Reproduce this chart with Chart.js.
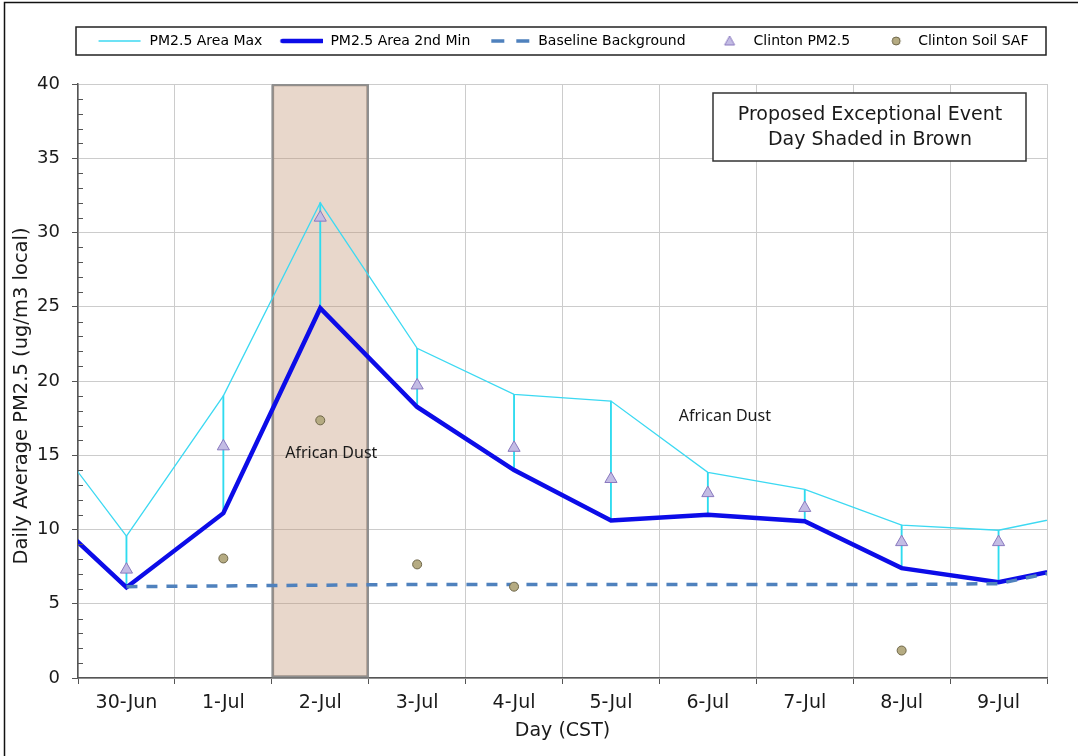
<!DOCTYPE html>
<html>
<head>
<meta charset="utf-8">
<title>Clinton PM2.5 - African Dust</title>
<script src="https://cdn.jsdelivr.net/npm/chart.js@4.4.1/dist/chart.umd.min.js"></script>
<style>
  html, body { margin: 0; padding: 0; background: #fff; }
  canvas { display: block; }
</style>
</head>
<body>
<canvas id="pmChart" width="1078" height="756"></canvas>
<script>
// one hidden day on each side, so the lines run off the edges of the plot like the original
const days = ['29-Jun', '30-Jun', '1-Jul', '2-Jul', '3-Jul', '4-Jul', '5-Jul', '6-Jul', '7-Jul', '8-Jul', '9-Jul', '10-Jul'];
const firstDay = '30-Jun';
const lastDay = '9-Jul';
const eventDay = '2-Jul';

const areaMax     = [18.2, 9.55, 19.0, 32.0, 22.2, 19.1, 18.65, 13.85, 12.7, 10.3, 9.95, 11.3];
const area2ndMin  = [12.2, 6.1, 11.1, 24.9, 18.25, 14.0, 10.6, 11.0, 10.55, 7.4, 6.45, 7.8];
const baseline    = [null, 6.15, 6.2, 6.25, 6.3, 6.3, 6.3, 6.3, 6.3, 6.3, 6.35, 7.7];
const clintonPM   = [null, 7.3, 15.6, 31.0, 19.7, 15.5, 13.4, 12.45, 11.45, 9.15, 9.15, null];
const clintonSoil = [null, null, 8.05, 17.35, 7.65, 6.15, null, null, null, 1.85, null, null];

const yMin = 0;
const yMax = 40;
const yStep = 5;
const yTitle = 'Daily Average PM2.5 (ug/m3 local)';

const dustNotes = [
  { text: 'African Dust', day: '2-Jul', value: 15.1 },
  { text: 'African Dust', day: '6-Jul', value: 17.6 }
];

const firstIdx = days.indexOf(firstDay);
const lastIdx = days.indexOf(lastDay);

// high-low lines between 2nd min and max on each shown day
const highLow = days.map((d, i) => (i >= firstIdx && i <= lastIdx) ? [area2ndMin[i], areaMax[i]] : null);
const eventShade = days.map(d => d === eventDay ? [yMin, yMax] : null);

const FONT = 'DejaVu Sans';
const TEXT = '#1a1a1a';
Chart.defaults.font.family = FONT;
Chart.defaults.color = TEXT;

function makeIcon(draw) {
  const c = document.createElement('canvas');
  c.width = 46;
  c.height = 14;
  draw(c.getContext('2d'));
  return c;
}

const legendIcons = {
  'PM2.5 Area Max': makeIcon(ctx => {
    ctx.strokeStyle = '#3CD9F2';
    ctx.lineWidth = 1.5;
    ctx.beginPath(); ctx.moveTo(2, 7); ctx.lineTo(44, 7); ctx.stroke();
  }),
  'PM2.5 Area 2nd Min': makeIcon(ctx => {
    ctx.strokeStyle = '#0C0CE8';
    ctx.lineWidth = 4.5;
    ctx.lineCap = 'round';
    ctx.beginPath(); ctx.moveTo(5, 7); ctx.lineTo(45, 7); ctx.stroke();
  }),
  'Baseline Background': makeIcon(ctx => {
    ctx.strokeStyle = '#4F81BD';
    ctx.lineWidth = 3.5;
    ctx.setLineDash([13, 12]);
    ctx.beginPath(); ctx.moveTo(6, 7); ctx.lineTo(46, 7); ctx.stroke();
  }),
  'Clinton PM2.5': makeIcon(ctx => {
    ctx.fillStyle = '#C3BCE4';
    ctx.strokeStyle = '#8A79BF';
    ctx.lineWidth = 1;
    ctx.beginPath(); ctx.moveTo(29, 2); ctx.lineTo(34, 11); ctx.lineTo(24, 11); ctx.closePath();
    ctx.fill(); ctx.stroke();
  }),
  'Clinton Soil SAF': makeIcon(ctx => {
    ctx.fillStyle = '#B5AB82';
    ctx.strokeStyle = '#6F6749';
    ctx.lineWidth = 1;
    ctx.beginPath(); ctx.arc(31, 7, 4, 0, Math.PI * 2);
    ctx.fill(); ctx.stroke();
  })
};

const chartDecor = {
  id: 'chartDecor',
  beforeInit(chart) {
    const legend = chart.legend;
    if (!legend) return;
    const fit = legend.fit;
    // keep the legend on one row and leave room under it
    legend.fit = function () {
      this.maxWidth = Math.max(this.maxWidth, chart.width);
      fit.call(this);
      this.height = 65;
    };
  },
  beforeDraw(chart) {
    const ctx = chart.ctx;
    ctx.save();
    ctx.fillStyle = '#ffffff';
    ctx.fillRect(0, 0, chart.width, chart.height);
    ctx.restore();
  },
  afterDatasetsDraw(chart) {
    const ctx = chart.ctx;
    const x = chart.scales.x, y = chart.scales.y;
    ctx.save();
    ctx.font = '16px "Noto Sans"';
    ctx.fillStyle = TEXT;
    ctx.textAlign = 'center';
    ctx.textBaseline = 'middle';
    const shift = [11, 17];
    dustNotes.forEach((n, i) => {
      const px = x.getPixelForValue(days.indexOf(n.day)) + shift[i];
      ctx.fillText(n.text, px, y.getPixelForValue(n.value));
    });
    ctx.restore();
  },
  afterDraw(chart) {
    const ctx = chart.ctx;
    const area = chart.chartArea;
    const y = chart.scales.y;
    ctx.save();

    // minor ticks inside the value axis
    ctx.strokeStyle = '#555';
    ctx.lineWidth = 1;
    for (let v = yMin + 1; v < yMax; v++) {
      if (v % yStep === 0) continue;
      const py = Math.round(y.getPixelForValue(v)) + 0.5;
      ctx.beginPath(); ctx.moveTo(area.left, py); ctx.lineTo(area.left + 5, py); ctx.stroke();
    }

    // value axis title, sitting a bit below the middle like the original
    ctx.save();
    ctx.translate(22, (area.top + area.bottom) / 2 + 15);
    ctx.rotate(-Math.PI / 2);
    ctx.font = '19.5px "' + FONT + '"';
    ctx.fillStyle = TEXT;
    ctx.textAlign = 'center';
    ctx.textBaseline = 'middle';
    ctx.fillText(yTitle, 0, 0);
    ctx.restore();

    // frame around the legend
    const hb = chart.legend.legendHitBoxes;
    if (hb && hb.length) {
      const cy = hb[0].top + hb[0].height / 2;
      ctx.strokeStyle = '#222';
      ctx.lineWidth = 1.5;
      ctx.strokeRect(area.left - 2, Math.round(cy) - 14, area.right - area.left + 1, 28);
    }

    // note box
    const bx = area.right - 334, by = area.top + 9;
    ctx.fillStyle = '#ffffff';
    ctx.fillRect(bx, by, 313, 68);
    ctx.strokeStyle = '#333';
    ctx.lineWidth = 1.5;
    ctx.strokeRect(bx, by, 313, 68);
    ctx.fillStyle = TEXT;
    ctx.font = '19px "' + FONT + '"';
    ctx.textAlign = 'center';
    ctx.textBaseline = 'middle';
    ctx.fillText('Proposed Exceptional Event', bx + 157, by + 22);
    ctx.fillText('Day Shaded in Brown', bx + 157, by + 47);

    // outer frame (runs off the right and bottom like the source image)
    ctx.strokeStyle = '#111';
    ctx.lineWidth = 1.5;
    ctx.beginPath();
    ctx.moveTo(4.5, chart.height); ctx.lineTo(4.5, 2.5); ctx.lineTo(chart.width, 2.5);
    ctx.stroke();
    ctx.restore();
  }
};

const ctx = document.getElementById('pmChart').getContext('2d');
const pmChart = new Chart(ctx, {
  type: 'line',
  data: {
    labels: days,
    datasets: [
      {
        label: 'PM2.5 Area Max',
        data: areaMax,
        borderColor: '#3CD9F2',
        borderWidth: 1.3,
        pointRadius: 0,
        tension: 0,
        clip: 0,
        order: 5
      },
      {
        label: 'PM2.5 Area 2nd Min',
        data: area2ndMin,
        borderColor: '#0C0CE8',
        borderWidth: 4.5,
        pointRadius: 0,
        tension: 0,
        clip: 0,
        order: 4
      },
      {
        label: 'Baseline Background',
        data: baseline,
        borderColor: '#4F81BD',
        borderWidth: 3.5,
        borderDash: [11, 9],
        pointRadius: 0,
        tension: 0,
        clip: 0,
        order: 3
      },
      {
        label: 'Clinton PM2.5',
        data: clintonPM,
        showLine: false,
        pointStyle: 'triangle',
        pointRadius: 7,
        backgroundColor: '#C3BCE4',
        borderColor: '#8A79BF',
        borderWidth: 1,
        order: 1
      },
      {
        label: 'Clinton Soil SAF',
        data: clintonSoil,
        showLine: false,
        pointStyle: 'circle',
        pointRadius: 4.5,
        backgroundColor: '#B5AB82',
        borderColor: '#6F6749',
        borderWidth: 1,
        order: 0
      },
      {
        type: 'bar',
        label: 'High-Low',
        data: highLow,
        backgroundColor: '#2EDBEF',
        barThickness: 1.2,
        grouped: false,
        order: 8
      },
      {
        type: 'bar',
        label: 'Event Day',
        data: eventShade,
        backgroundColor: 'rgba(190, 140, 105, 0.35)',
        borderColor: '#8f8f8f',
        borderWidth: 2,
        borderSkipped: false,
        categoryPercentage: 1,
        barPercentage: 1,
        grouped: false,
        order: 9
      }
    ]
  },
  options: {
    responsive: false,
    animation: false,
    layout: { padding: { left: 8, right: 31, top: 19, bottom: 0 } },
    plugins: {
      legend: {
        position: 'top',
        fullSize: false,
        labels: {
          usePointStyle: true,
          pointStyleWidth: 46,
          boxHeight: 14,
          padding: 15,
          font: { size: 14 },
          color: TEXT,
          generateLabels: chart => chart.data.datasets
            .map((ds, i) => ({
              text: ds.label,
              datasetIndex: i,
              pointStyle: legendIcons[ds.label],
              hidden: false,
              fillStyle: 'rgba(0,0,0,0)',
              strokeStyle: 'rgba(0,0,0,0)',
              lineWidth: 0
            }))
            .filter(item => item.pointStyle)
        }
      },
      tooltip: { enabled: false }
    },
    scales: {
      x: {
        type: 'category',
        offset: true,
        // show 30-Jun..9-Jul only; the outer days still feed the line ends
        afterDataLimits: scale => {
          scale.min = firstIdx;
          scale.max = lastIdx;
        },
        afterFit: scale => { scale.height = 78; },
        grid: { offset: true, color: '#cccccc', tickColor: '#555', tickLength: 6 },
        border: { color: '#555', width: 1.5 },
        ticks: { font: { size: 19 }, color: TEXT, padding: 8, maxRotation: 0, autoSkip: false },
        title: {
          display: true,
          text: 'Day (CST)',
          font: { size: 19 },
          color: TEXT,
          padding: { top: 4, bottom: 14 }
        }
      },
      y: {
        min: yMin,
        max: yMax,
        afterFit: scale => { scale.width = 70; },
        grid: { color: '#cccccc', tickColor: '#555', tickLength: 6 },
        border: { color: '#555', width: 1.5 },
        ticks: { stepSize: yStep, font: { size: 18 }, color: TEXT, padding: 12 },
        title: { display: false }
      }
    }
  },
  plugins: [chartDecor]
});
</script>
</body>
</html>
